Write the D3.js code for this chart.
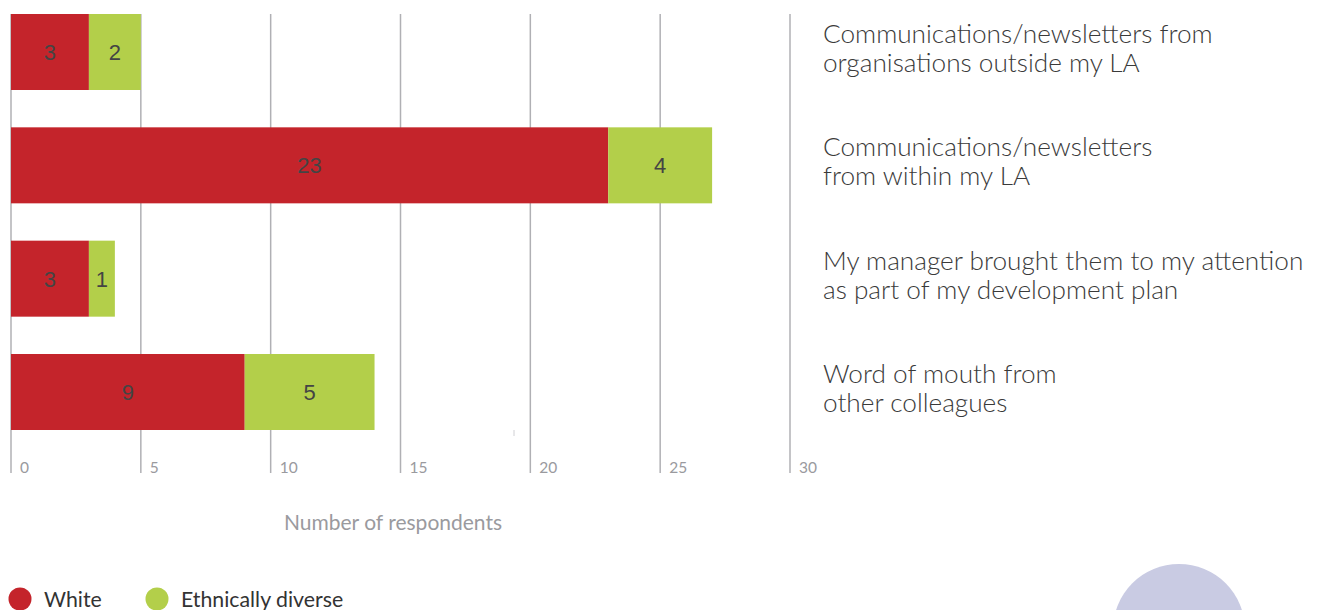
<!DOCTYPE html>
<html><head><meta charset="utf-8">
<script src="https://cdn.jsdelivr.net/npm/d3@7"></script>
<style>body{margin:0;background:#fff;}svg{display:block;}</style>
</head><body>
<svg id="c" width="1319" height="610"></svg>
<script>
const categories = [
  ["Communications/newsletters from", "organisations outside my LA"],
  ["Communications/newsletters", "from within my LA"],
  ["My manager brought them to my attention", "as part of my development plan"],
  ["Word of mouth from", "other colleagues"]
];
const white = [3, 23, 3, 9];
const diverse = [2, 4, 1, 5];
const seriesNames = ["White", "Ethnically diverse"];
const seriesColors = ["#c4242b", "#b3cf4a"];
const ticks = [0, 5, 10, 15, 20, 25, 30];
const axisTitle = "Number of respondents";

const svg = d3.select("#c");
const x = d3.scaleLinear().domain([0, 30]).range([11, 790]);
const y = d3.scaleBand().domain(d3.range(categories.length)).range([14, 430]).paddingInner(0.3294).paddingOuter(0);

// grid lines
const grid = svg.append("g");
ticks.forEach(t => {
  grid.append("line").attr("x1", x(t)).attr("x2", x(t)).attr("y1", 14).attr("y2", 473)
    .attr("stroke", "#b0b0b4").attr("stroke-width", 1.5);
  grid.append("text").attr("x", x(t) + 9).attr("y", 473).text(t)
    .attr("font-family", "Lato").attr("font-size", 15.5).attr("fill", "#9a9a9e");
});
svg.append("line").attr("x1", 514).attr("x2", 514).attr("y1", 430).attr("y2", 436)
  .attr("stroke", "#d0d0d4").attr("stroke-width", 1);

const stacks = d3.stack().keys([0, 1]).value((d, k) => d[k])(white.map((w, i) => [w, diverse[i]]));
stacks.forEach((s, si) => {
  const g = svg.append("g");
  s.forEach((d, i) => {
    g.append("rect").attr("x", x(d[0])).attr("y", y(i)).attr("width", x(d[1]) - x(d[0])).attr("height", y.bandwidth())
      .attr("fill", seriesColors[si]);
    g.append("text").attr("x", (x(d[0]) + x(d[1])) / 2).attr("y", y(i) + y.bandwidth() / 2 + 8)
      .attr("text-anchor", "middle").attr("font-family", "Liberation Sans, Arial").attr("font-size", 22)
      .attr("fill", "#444").text(d[1] - d[0]);
  });
});

// category labels
categories.forEach((lines, i) => {
  const t = svg.append("text").attr("font-family", "Lato").attr("font-weight", 300).attr("font-size", 26.2).attr("fill", "#3a3a3a");
  lines.forEach((l, j) => {
    t.append("tspan").attr("x", 823).attr("y", y(i) + y.bandwidth() / 2 - 9 + j * 29).text(l);
  });
});

svg.append("text").attr("x", 393).attr("y", 530).attr("text-anchor", "middle")
  .attr("font-family", "Lato").attr("font-size", 21).attr("fill", "#9a9a9e").text(axisTitle);

// legend
const lx = [20, 157];
seriesNames.forEach((n, i) => {
  svg.append("circle").attr("cx", lx[i]).attr("cy", 599).attr("r", 11.5).attr("fill", seriesColors[i]);
  svg.append("text").attr("x", lx[i] + 24).attr("y", 607).text(n)
    .attr("font-family", "Lato").attr("font-size", 21.3).attr("fill", "#333");
});

// decorative circle
svg.append("circle").attr("cx", 1179).attr("cy", 630).attr("r", 66).attr("fill", "#c9cbe3");
</script>
</body></html>
